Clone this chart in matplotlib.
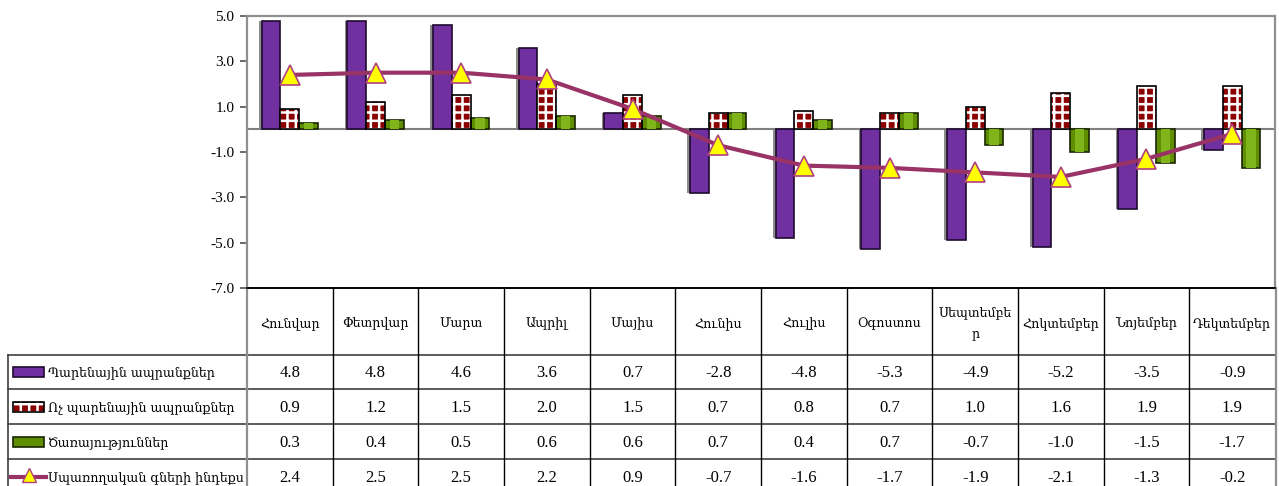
import numpy as np
import matplotlib
matplotlib.use("Agg")
import matplotlib.pyplot as plt
import matplotlib.patches as mp

months = ["Հունվար", "Փետրվար", "Մարտ", "Ապրիլ", "Մայիս", "Հունիս",
          "Հուլիս", "Օգոստոս", "Սեպտեմբե\nր", "Հոկտեմբեր", "Նոյեմբեր", "Դեկտեմբեր"]
series_names = ["Պարենային ապրանքներ", "Ոչ պարենային ապրանքներ",
                "Ծառայություններ", "Սպառողական գների ինդեքս"]
food = [4.8, 4.8, 4.6, 3.6, 0.7, -2.8, -4.8, -5.3, -4.9, -5.2, -3.5, -0.9]
nonfood = [0.9, 1.2, 1.5, 2.0, 1.5, 0.7, 0.8, 0.7, 1.0, 1.6, 1.9, 1.9]
services = [0.3, 0.4, 0.5, 0.6, 0.6, 0.7, 0.4, 0.7, -0.7, -1.0, -1.5, -1.7]
cpi = [2.4, 2.5, 2.5, 2.2, 0.9, -0.7, -1.6, -1.7, -1.9, -2.1, -1.3, -0.2]
yticks = [5.0, 3.0, 1.0, -1.0, -3.0, -5.0, -7.0]

W, H = 1279, 486
PURPLE = "#7030A0"
RED = "#8B0000"
GREEN = "#5F8F00"
LINEC = "#993366"
SERIF = ["Liberation Serif", "DejaVu Serif"]
ARM = ["DejaVu Serif"]
plt.rcParams["hatch.linewidth"] = 1.8

fig = plt.figure(figsize=(W / 100, H / 100), dpi=100)

# plot area in pixels
L, R, T, B = 247, 1275, 16, 288
ax = fig.add_axes([L / W, 1 - B / H, (R - L) / W, (B - T) / H])
ax.set_facecolor("none")
x = np.arange(len(months))
w = 0.22
ax.set_xlim(-0.5, len(months) - 0.5)
ax.set_ylim(-7, 5)

# shadows for purple bars
ax.bar(x - w - 0.03, food, w, color="#8C8C8C", zorder=1)
ax.bar(x - w, food, w, color=PURPLE, edgecolor="#1E0A2E", linewidth=1.2, zorder=2)
ax.bar(x, nonfood, w, color=RED, edgecolor="white", linewidth=0, hatch="++", zorder=2)
ax.bar(x, nonfood, w, fill=False, edgecolor="black", linewidth=1.2, zorder=3)
ax.bar(x + w, services, w, color=GREEN, edgecolor="#1A2600", linewidth=1.2, zorder=2)
ax.bar(x + w, services, w * 0.5, color="#7FB51A", linewidth=0, zorder=2.5)
ax.axhline(0, color="#808080", lw=1.5, zorder=1.5)
ax.plot(x, cpi, color=LINEC, lw=3, marker="^", markersize=15,
        markerfacecolor="#FFFF00", markeredgecolor="#B0407F", markeredgewidth=1.2, zorder=5)

ax.set_yticks(yticks)
ax.set_yticklabels([f"{v:.1f}" for v in yticks], fontfamily=SERIF, fontsize=11)
ax.set_xticks([])
ax.tick_params(axis="y", direction="out", length=5, color="#606060", width=1.3, pad=4)
for s in ("left", "top", "right"):
    ax.spines[s].set_color("#909090")
    ax.spines[s].set_linewidth(1.6)
ax.spines["bottom"].set_color("black")
ax.spines["bottom"].set_linewidth(1.2)

# data table
tb = fig.add_axes([0, 0, 1, 1], zorder=-1)
tb.set_xlim(0, W)
tb.set_ylim(H, 0)
tb.axis("off")
colw = (R - L) / len(months)
rows_y = [288, 355, 389, 424, 459, 494]
lc = "#404040"
tb.plot([L, R], [rows_y[0], rows_y[0]], color="black", lw=1.2)
for yy in rows_y[1:5]:
    tb.plot([8, R], [yy, yy], color=lc, lw=1.2)
tb.plot([8, 8], [rows_y[1], H], color=lc, lw=1.2)
tb.plot([L, L], [rows_y[0], H], color="#909090", lw=1.6)
for i in range(1, len(months)):
    xx = L + i * colw
    tb.plot([xx, xx], [rows_y[0], H], color="black", lw=1.0)
tb.plot([R + 1, R + 1], [rows_y[0], H], color="#909090", lw=1.6)

for i, m in enumerate(months):
    cx = L + (i + 0.5) * colw
    tb.text(cx, (rows_y[0] + rows_y[1]) / 2 + 2, m, ha="center", va="center",
            fontfamily=ARM, fontsize=9.1, linespacing=1.9)

all_series = [food, nonfood, services, cpi]
for r, vals in enumerate(all_series):
    cy = (rows_y[r + 1] + rows_y[r + 2]) / 2
    for i, v in enumerate(vals):
        cx = L + (i + 0.5) * colw
        tb.text(cx, cy + 1, f"{v:.1f}", ha="center", va="center",
                fontfamily=SERIF, fontsize=12)
    tb.text(48, cy + 1, series_names[r], ha="left", va="center",
            fontfamily=ARM, fontsize=9.1)

# legend keys
k_x0, k_w, k_h = 13, 31, 10
cys = [(rows_y[r + 1] + rows_y[r + 2]) / 2 for r in range(4)]
tb.add_patch(mp.Rectangle((k_x0, cys[0] - k_h / 2), k_w, k_h, facecolor=PURPLE,
                          edgecolor="#1E0A2E", lw=1.2))
tb.add_patch(mp.Rectangle((k_x0, cys[1] - k_h / 2), k_w, k_h, facecolor=RED,
                          edgecolor="white", lw=0, hatch="++"))
tb.add_patch(mp.Rectangle((k_x0, cys[1] - k_h / 2), k_w, k_h, fill=False,
                          edgecolor="black", lw=1.2))
tb.add_patch(mp.Rectangle((k_x0, cys[2] - k_h / 2), k_w, k_h, facecolor=GREEN,
                          edgecolor="#1A2600", lw=1.2))
tb.plot([k_x0 - 2, k_x0 + k_w + 2], [cys[3], cys[3]], color=LINEC, lw=3)
tb.plot([k_x0 + k_w / 2], [cys[3] - 2], marker="^", markersize=10,
        markerfacecolor="#FFFF00", markeredgecolor="#B0407F", markeredgewidth=1.0)

fig.savefig("out.png", dpi=100)
